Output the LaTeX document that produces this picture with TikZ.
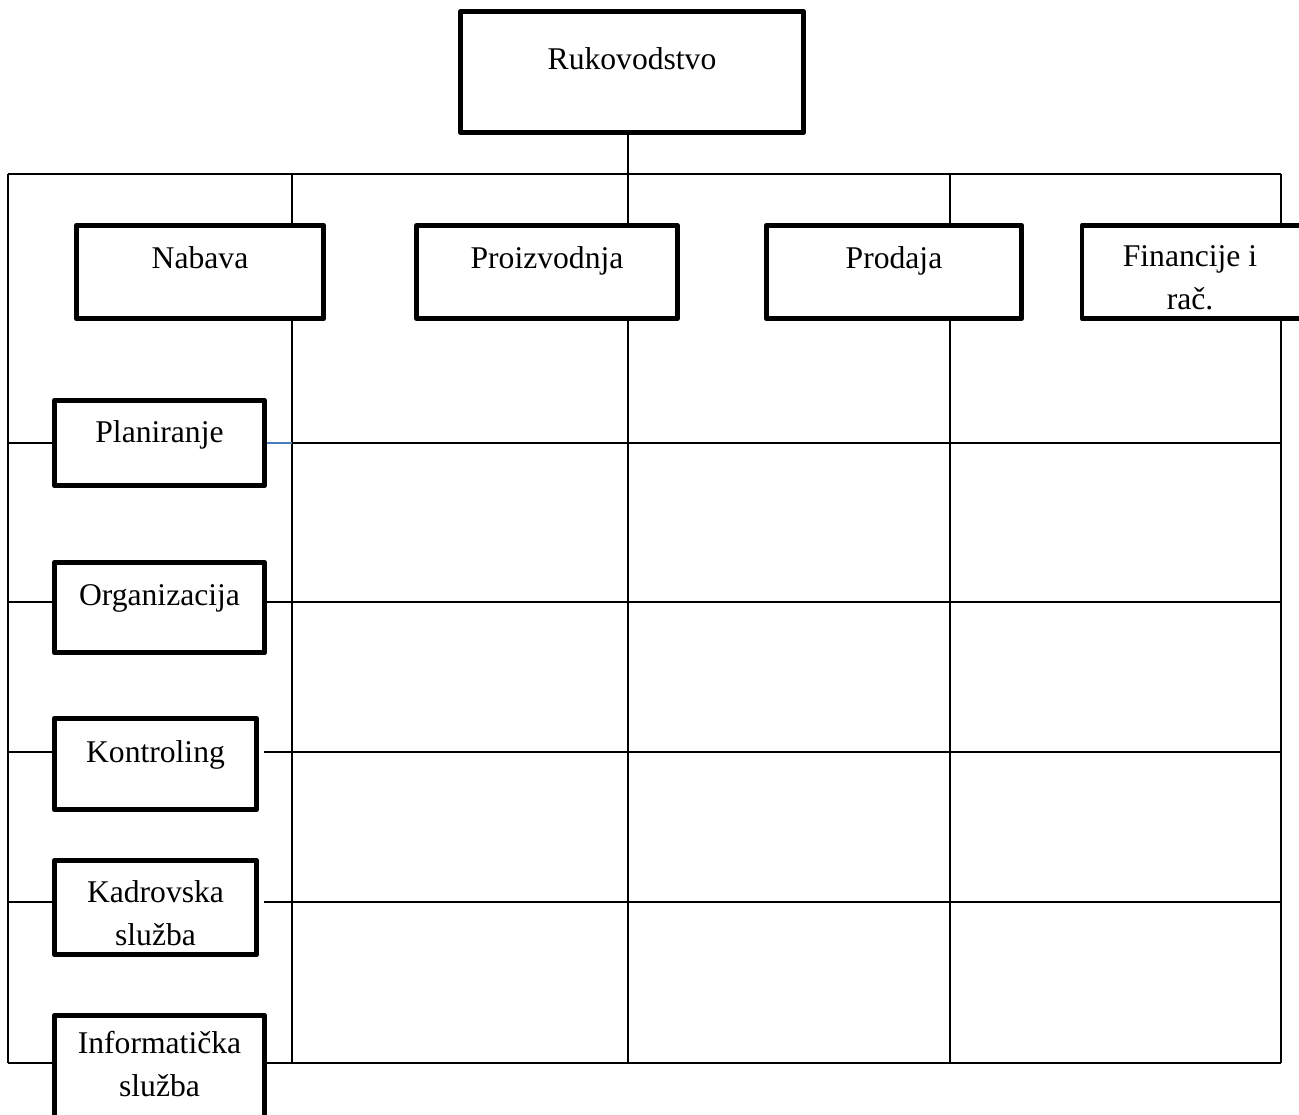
\documentclass[tikz,border=0pt]{standalone}
\usepackage{fontspec}
\setmainfont{Liberation Serif}
\usepackage{tikz}
\definecolor{stubblue}{HTML}{4A7EBB}
\tikzstyle{dept}=[rectangle,draw=black,line width=2.6pt,fill=white,line join=round,inner sep=0pt]
\tikzstyle{lbl}=[font=\fontsize{18}{24.4}\selectfont,inner sep=0pt,anchor=base]
\tikzstyle{lbltwo}=[font=\fontsize{18}{24.4}\selectfont,inner sep=0pt,align=center,anchor=north]
\tikzstyle{link}=[line width=1pt]
\tikzstyle{bluelink}=[line width=1pt,draw=stubblue]

\begin{document}
\begin{tikzpicture}[x=0.02cm,y=-0.02cm]
            \useasboundingbox (0,0) rectangle (1299,1115);

            % FRAME

            \foreach \c/\x in {a/8,b/292,c/628,d/950,e/1281}{
                \coordinate (top-\c) at (\x,174);
                \coordinate (bot-\c) at (\x,1063);
            }
            \coordinate (row1) at (0,443);
            \coordinate (row2) at (0,602);
            \coordinate (row3) at (0,752);
            \coordinate (row4) at (0,902);

            \draw[link] (top-a) -- (top-e);
            \foreach \c in {a,b,c,d,e}
                \draw[link] (top-\c) -- (bot-\c);

            % TOP PART

            \node[dept,minimum width=6.86cm,minimum height=2.42cm] (ruk) at (632,72) {};
            \node[dept,minimum width=4.95cm,minimum height=1.87cm] (nab) at (200,272) {};
            \node[dept,minimum width=5.22cm,minimum height=1.87cm] (pro) at (547,272) {};
            \node[dept,minimum width=5.11cm,minimum height=1.87cm] (prd) at (894,272) {};
            \node[dept,minimum width=4.4cm,minimum height=1.87cm] (fin) at (1192,272) {};

            \node[lbl] (ruk-t) at (632,70) {Rukovodstvo};
            \node[lbl] (nab-t) at (200,268) {Nabava};
            \node[lbl] (pro-t) at (547,268) {Proizvodnja};
            \node[lbl] (prd-t) at (894,268) {Prodaja};
            \node[lbltwo] (fin-t) at (1190,245) {Financije i\\rač.};

            \draw[link] (ruk.south -| top-c) -- (top-c);

            % LEFT PART

            \node[dept,minimum width=4.21cm,minimum height=1.71cm] (plan) at (159.5,443) {};
            \node[dept,minimum width=4.21cm,minimum height=1.81cm] (org) at (159.5,607.5) {};
            \node[dept,minimum width=4.05cm,minimum height=1.83cm] (kon) at (155.5,764) {};
            \node[dept,minimum width=4.05cm,minimum height=1.89cm] (kad) at (155.5,907.5) {};
            \node[dept,minimum width=4.21cm,minimum height=2.15cm] (inf) at (159.5,1069) {};

            \node[lbl] (plan-t) at (159.5,442) {Planiranje};
            \node[lbl] (org-t) at (159.5,605) {Organizacija};
            \node[lbl] (kon-t) at (155.5,762) {Kontroling};
            \node[lbltwo] (kad-t) at (155.5,880) {Kadrovska\\služba};
            \node[lbltwo] (inf-t) at (159.5,1031) {Informatička\\služba};

            % Rows

            \draw[link] (top-a |- row1) -- (plan.west |- row1);
            \draw[bluelink] (plan.east |- row1) -- (top-b |- row1);
            \draw[link] (top-b |- row1) -- (top-e |- row1);

            \draw[link] (top-a |- row2) -- (org.west |- row2);
            \draw[link] (org.east |- row2) -- (top-e |- row2);

            \draw[link] (top-a |- row3) -- (kon.west |- row3);
            \draw[link,shorten <=0.1cm] (kon.east |- row3) -- (top-e |- row3);

            \draw[link] (top-a |- row4) -- (kad.west |- row4);
            \draw[link,shorten <=0.1cm,shorten >=-0.2cm] (kad.east |- row4) -- (top-b |- row4);
            \draw[link] (top-b |- row4) -- (top-e |- row4);

            \draw[link] (bot-a) -- (inf.west |- bot-a);
            \draw[link] (inf.east |- bot-a) -- (bot-e);

        \end{tikzpicture}
\end{document}
